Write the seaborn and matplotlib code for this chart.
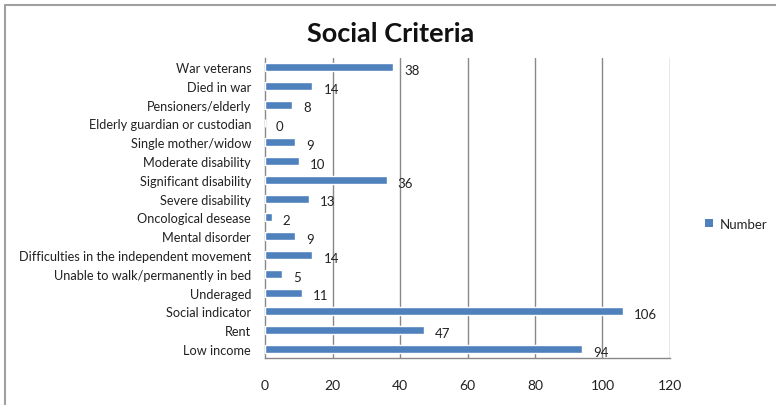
import matplotlib
matplotlib.use("Agg")
import matplotlib.pyplot as plt
import seaborn as sns
import pandas as pd
from matplotlib.patches import Patch
from matplotlib.lines import Line2D

categories = ["War veterans", "Died in war", "Pensioners/elderly", "Elderly guardian or custodian",
              "Single mother/widow", "Moderate disability", "Significant disability", "Severe disability",
              "Oncological desease", "Mental disorder", "Difficulties in the independent movement",
              "Unable to walk/permanently in bed", "Underaged", "Social indicator", "Rent", "Low income"]
values = [38, 14, 8, 0, 9, 10, 36, 13, 2, 9, 14, 5, 11, 106, 47, 94]
x_ticks = [0, 20, 40, 60, 80, 100, 120]

sns.set_theme(style="white")
plt.rcParams['font.family'] = ['Lato', 'DejaVu Sans']

df = pd.DataFrame({"category": categories, "Number": values})

fig = plt.figure(figsize=(7.76, 4.06), dpi=100)
ax = fig.add_axes([0.3415, 0.1148, 0.8634 - 0.3415, 0.8557 - 0.1148])

bar_color = "#4F81BD"
sns.barplot(data=df, x="Number", y="category", color=bar_color, width=0.42,
            saturation=1, ax=ax, zorder=3)

ax.set_xlim(0, 120)
ax.set_ylim(len(categories) - 0.5, -0.5)
ax.set_xticks(x_ticks)
ax.set_xticklabels([str(t) for t in x_ticks], fontsize=10, color="#222222")
ax.set_yticks(range(len(categories)))
ax.set_yticklabels(categories, fontsize=9.2, color="#222222")
ax.set_yticks([i - 0.5 for i in range(len(categories) + 1)], minor=True)
ax.tick_params(axis="y", which="major", length=0, pad=10)
ax.tick_params(axis="y", which="minor", length=5, color="#888888", width=1, direction="out")
ax.tick_params(axis="x", which="major", length=5, color="#888888", width=1, direction="out", pad=10)
ax.set_xlabel("")
ax.set_ylabel("")

for t in x_ticks[1:]:
    ax.axvline(t, color="#888888", lw=1, zorder=1)

for s in ["top", "right"]:
    ax.spines[s].set_visible(False)
for s in ["left", "bottom"]:
    ax.spines[s].set_color("#888888")
    ax.spines[s].set_linewidth(1)

texts = ax.bar_label(ax.containers[0], labels=[str(v) for v in values], fontsize=9.5,
                     color="#222222", padding=8)
for t in texts:
    t.xyann = (8, -2)

fig.suptitle("Social Criteria", x=0.503, y=0.945, fontsize=19.5, fontweight="bold", color="#111111")

fig.legend(handles=[Patch(facecolor=bar_color, edgecolor="none")], labels=["Number"],
           loc="center left", bbox_to_anchor=(0.893, 0.447), frameon=False, fontsize=9.5,
           handlelength=0.6, handleheight=0.6, handletextpad=0.5)

# partial frame: left and top edges only
fig.add_artist(Line2D([4.5 / 776, 4.5 / 776], [0, 1 - 6 / 406], transform=fig.transFigure,
                      color="#A0A0A0", lw=1.5))
fig.add_artist(Line2D([4.5 / 776, 1], [1 - 6 / 406, 1 - 6 / 406], transform=fig.transFigure,
                      color="#A0A0A0", lw=1.5))

fig.savefig("out.png", dpi=100)
